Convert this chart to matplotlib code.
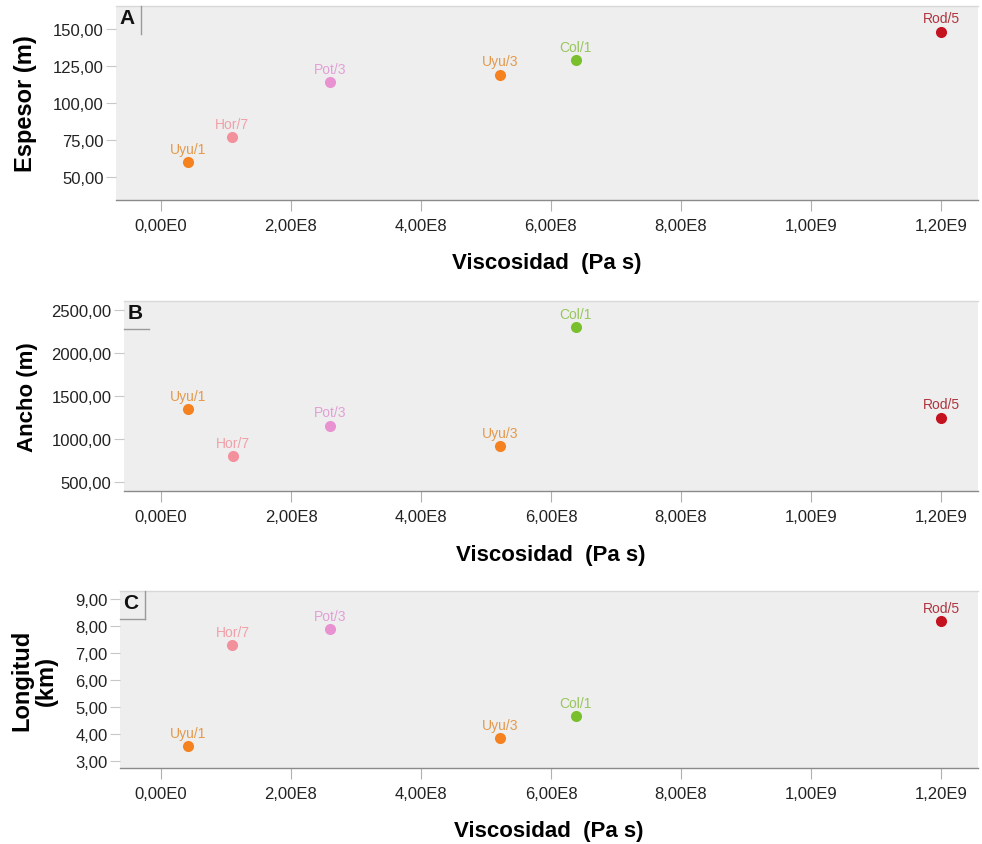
import matplotlib
matplotlib.use("Agg")
import matplotlib.pyplot as plt

plt.rcParams["font.family"] = ["Liberation Sans", "DejaVu Sans"]

# Sites (name / sample) and their viscosities
site_labels = ["Uyu/1", "Hor/7", "Pot/3", "Uyu/3", "Col/1", "Rod/5"]
viscosity = [4.2e7, 1.1e8, 2.6e8, 5.22e8, 6.38e8, 1.2e9]

# Flow dimensions
espesor = [60, 77, 114, 119, 129, 148]          # m
ancho = [1345, 800, 1155, 915, 2300, 1250]      # m
longitud = [3.55, 7.3, 7.9, 3.85, 4.65, 8.2]    # km

point_colors = ["#f5821f", "#f2909c", "#e892d2", "#f5821f", "#7ac02c", "#c5121f"]
label_colors = ["#e39a4c", "#f0a0a8", "#e2a0d6", "#e39a4c", "#98c65c", "#b0343f"]

x_ticks = [0, 2e8, 4e8, 6e8, 8e8, 1e9, 1.2e9]
x_tick_labels = ["0,00E0", "2,00E8", "4,00E8", "6,00E8", "8,00E8", "1,00E9", "1,20E9"]

espesor_ticks = [50, 75, 100, 125, 150]
espesor_tick_labels = ["50,00", "75,00", "100,00", "125,00", "150,00"]
ancho_ticks = [500, 1000, 1500, 2000, 2500]
ancho_tick_labels = ["500,00", "1000,00", "1500,00", "2000,00", "2500,00"]
longitud_ticks = [3, 4, 5, 6, 7, 8, 9]
longitud_tick_labels = ["3,00", "4,00", "5,00", "6,00", "7,00", "8,00", "9,00"]

W, H = 982, 845
fig = plt.figure(figsize=(W / 100, H / 100), dpi=100)


def px_axes(left, top, right, bottom):
    return fig.add_axes([left / W, 1 - bottom / H, (right - left) / W, (bottom - top) / H])


panels = [
    dict(box=(116, 7, 978, 201), y=espesor, ylim=(34.3, 165.3), xlim=(-0.69e8, 12.57e8),
         yticks=espesor_ticks, yticklabels=espesor_tick_labels, ylabel="Espesor (m)",
         ylabel_size=17, ylabel_x=25, letter="A", edges="right"),
    dict(box=(124, 302, 978, 492), y=ancho, ylim=(395, 2608), xlim=(-0.57e8, 12.57e8),
         yticks=ancho_ticks, yticklabels=ancho_tick_labels, ylabel="Ancho (m)",
         ylabel_size=16, ylabel_x=27, letter="B", edges="bottom"),
    dict(box=(120, 592, 978, 769), y=longitud, ylim=(2.73, 9.31), xlim=(-0.63e8, 12.57e8),
         yticks=longitud_ticks, yticklabels=longitud_tick_labels, ylabel="Longitud\n(km)",
         ylabel_size=17, ylabel_x=34, letter="C", edges="both"),
]

for p in panels:
    left, top, right, bottom = p["box"]
    ax = px_axes(left, top, right, bottom)
    ax.set_facecolor("#eeeeee")
    ax.set_xlim(*p["xlim"])
    ax.set_ylim(*p["ylim"])

    for side in ("left", "right"):
        ax.spines[side].set_visible(False)
    ax.spines["top"].set_color("#d8d8d8")
    ax.spines["top"].set_linewidth(1.0)
    ax.spines["bottom"].set_color("#8a8a8a")
    ax.spines["bottom"].set_linewidth(1.0)

    ax.set_xticks(x_ticks)
    ax.set_xticklabels(x_tick_labels)
    ax.set_yticks(p["yticks"])
    ax.set_yticklabels(p["yticklabels"])
    ax.tick_params(axis="x", length=8, width=0.8, color="#b0b0b0", pad=5,
                   labelsize=12, labelcolor="#222222")
    ax.tick_params(axis="y", length=7, width=0.8, color="#c8c8c8", pad=2,
                   labelsize=12, labelcolor="#222222")

    ax.set_xlabel("Viscosidad  (Pa s)", fontsize=16, fontweight="bold", labelpad=14)
    ax.set_ylabel(p["ylabel"], fontsize=p["ylabel_size"], fontweight="bold", va="center",
                  ha="center", multialignment="center", linespacing=1.05)
    ax.yaxis.set_label_coords((p["ylabel_x"] - left) / (right - left), 0.5)

    for xv, yv, name, pc, lc in zip(viscosity, p["y"], site_labels, point_colors, label_colors):
        ax.plot([xv], [yv], "o", color=pc, markersize=8, markeredgewidth=0, zorder=3)
        ax.annotate(name, (xv, yv), xytext=(0, 4.5), textcoords="offset points",
                    ha="center", va="bottom", fontsize=10, color=lc, zorder=4)

    # Panel letter in its small corner box
    bw = 25 / (right - left)
    bh = 28 / (bottom - top)
    ax.text(0.004, 1 - 0.012, p["letter"], transform=ax.transAxes, fontsize=15,
            fontweight="bold", ha="left", va="top", color="#111111", zorder=5)
    if p["edges"] in ("right", "both"):
        ax.plot([bw, bw], [1, 1 - bh], transform=ax.transAxes, color="#9a9a9a",
                lw=1.0, clip_on=False, zorder=5)
    if p["edges"] in ("bottom", "both"):
        ax.plot([0, bw], [1 - bh, 1 - bh], transform=ax.transAxes, color="#9a9a9a",
                lw=1.0, clip_on=False, zorder=5)

fig.savefig("out.png", dpi=100, facecolor="white")
